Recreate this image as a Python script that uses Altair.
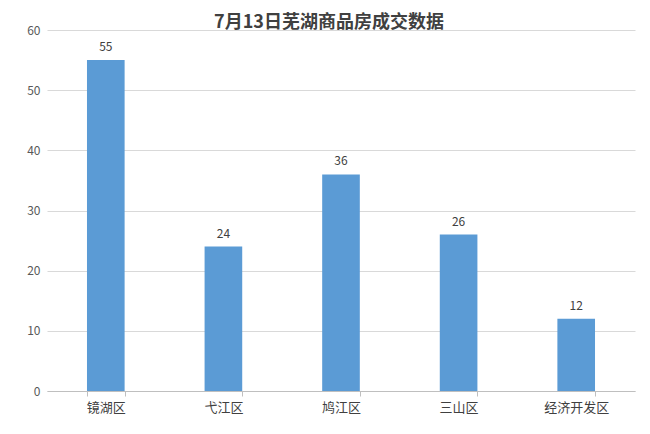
import altair as alt
import pandas as pd

districts = ["镜湖区", "弋江区", "鸠江区", "三山区", "经济开发区"]
deals = [55, 24, 36, 26, 12]
title_text = "7月13日芜湖商品房成交数据"

df = pd.DataFrame({"district": districts, "deals": deals})
FONT = "Noto Sans CJK SC"

base = alt.Chart(df).encode(
    x=alt.X(
        "district:N",
        sort=districts,
        title=None,
        scale=alt.Scale(paddingInner=0.68, paddingOuter=0.34),
        axis=alt.Axis(
            labelAngle=0,
            labelFont=FONT,
            labelFontSize=13,
            labelColor="#404040",
            labelPadding=5,
            tickBand="extent",
            tickSize=5,
            tickColor="#BFBFBF",
            domainColor="#BFBFBF",
            grid=False,
        ),
    ),
    y=alt.Y(
        "deals:Q",
        title=None,
        scale=alt.Scale(domain=[0, 60]),
        axis=alt.Axis(
            values=[0, 10, 20, 30, 40, 50, 60],
            labelFont=FONT,
            labelFontSize=12,
            labelColor="#595959",
            labelPadding=7,
            domain=False,
            ticks=False,
            gridColor="#D9D9D9",
        ),
    ),
)

bars = base.mark_bar(color="#5B9BD5")
labels = base.mark_text(dy=-13, font=FONT, fontSize=12, color="#404040").encode(
    text="deals:Q"
)

chart = (
    alt.layer(bars, labels)
    .properties(
        width=588,
        height=361,
        padding={"left": 39, "top": 22, "right": 7, "bottom": 35},
        autosize=alt.AutoSizeParams(type="none"),
        view=alt.ViewBackground(strokeWidth=0, strokeOpacity=0),
        title=alt.TitleParams(
            title_text,
            font=FONT,
            fontSize=18,
            fontWeight="bold",
            color="#404040",
            anchor="middle",
            dx=-12,
            offset=-8,
        ),
    )
    .configure_view(strokeWidth=0, strokeOpacity=0)
    .configure(background="white")
)

chart.save("out.html", embed_options={"renderer": "svg", "actions": False})
